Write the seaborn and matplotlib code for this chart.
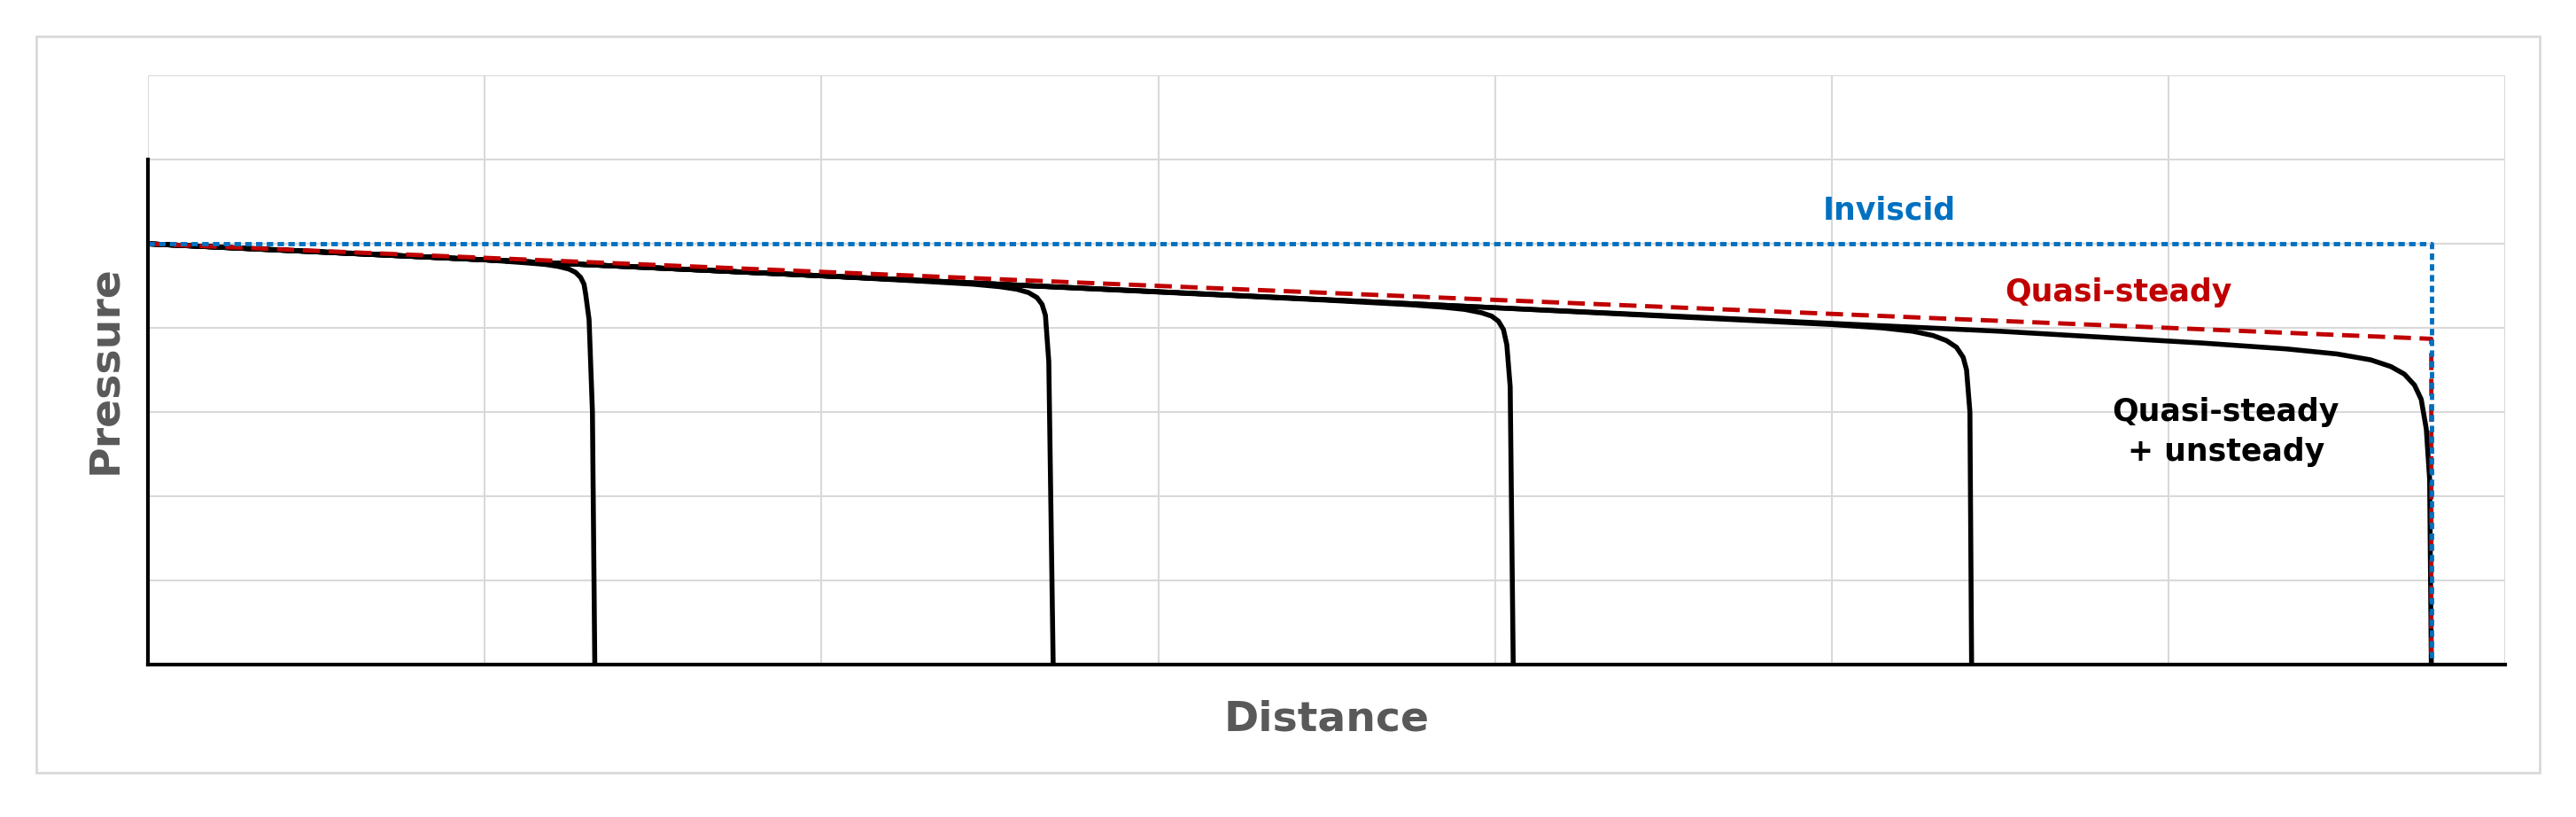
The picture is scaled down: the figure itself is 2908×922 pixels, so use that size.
import matplotlib
matplotlib.use("Agg")
import matplotlib.pyplot as plt
from matplotlib.patches import Rectangle
import seaborn as sns
import pandas as pd

# values (grid units, 7 x 7)
front_x = 6.78
inviscid_x = [0, front_x, front_x]
inviscid_y = [5, 5, 0]
quasi_x = [0, front_x, front_x]
quasi_y = [5, 3.87, 0]

curves = {
    "t1": ([0, 0.6, 1.0, 1.12, 1.18, 1.22, 1.25, 1.27, 1.285, 1.295, 1.30, 1.31, 1.32, 1.327],
           [5, 4.89, 4.81, 4.775, 4.755, 4.73, 4.70, 4.66, 4.60, 4.52, 4.40, 4.1, 3.0, 0]),
    "t2": ([0, 1, 2, 2.3, 2.45, 2.53, 2.58, 2.615, 2.64, 2.655, 2.665, 2.675, 2.688],
           [5, 4.81, 4.62, 4.555, 4.52, 4.49, 4.46, 4.42, 4.36, 4.28, 4.15, 3.6, 0]),
    "t3": ([0, 2, 3.5, 3.75, 3.85, 3.91, 3.96, 3.99, 4.01, 4.025, 4.035, 4.045, 4.054],
           [5, 4.62, 4.33, 4.275, 4.245, 4.22, 4.18, 4.14, 4.08, 3.98, 3.8, 3.3, 0]),
    "t4": ([0, 2, 4, 5.0, 5.15, 5.24, 5.30, 5.34, 5.37, 5.39, 5.40, 5.41, 5.415],
           [5, 4.62, 4.24, 4.04, 4.00, 3.96, 3.91, 3.85, 3.77, 3.65, 3.5, 3.0, 0]),
    "t5": ([0, 2, 4, 5.5, 6.1, 6.35, 6.5, 6.6, 6.66, 6.70, 6.73, 6.75, 6.765, 6.775, 6.78],
           [5, 4.62, 4.24, 3.96, 3.82, 3.75, 3.69, 3.62, 3.54, 3.45, 3.32, 3.15, 2.8, 2.2, 0]),
}

sns.set_style("white")
plt.rcParams["font.family"] = ["DejaVu Sans"]

fig = plt.figure(figsize=(29.08, 9.22), dpi=100)
fig.patches.append(Rectangle((0.014, 0.054), 0.972, 0.902, transform=fig.transFigure,
                             fill=False, edgecolor="#d9d9d9", linewidth=2))
ax = fig.add_axes([0.0574, 0.187, 0.9152, 0.7204])

rows = []
for name, (xs, ys) in curves.items():
    for i, (x, y) in enumerate(zip(xs, ys)):
        rows.append({"curve": name, "x": x, "y": y, "i": i})
df = pd.DataFrame(rows)

for name, g in df.groupby("curve"):
    sns.lineplot(data=g, x="x", y="y", sort=False, color="black", linewidth=4, ax=ax,
                 estimator=None)
ax.plot(quasi_x, quasi_y, color="#C00000", linewidth=3.5, linestyle=(0, (4, 2)))
ax.plot(inviscid_x, inviscid_y, color="#0070C0", linewidth=3.5, linestyle=(0, (1.5, 1)))

ax.set_xlim(0, 7)
ax.set_ylim(0, 7)
ax.set_xticks(range(8))
ax.set_yticks(range(8))
ax.set_xticklabels([])
ax.set_yticklabels([])
ax.tick_params(length=0)
ax.grid(True, color="#d9d9d9", linewidth=1.5)
for s in ["top", "right"]:
    ax.spines[s].set_visible(False)
ax.spines["bottom"].set_color("black")
ax.spines["bottom"].set_linewidth(3)
ax.spines["left"].set_color("black")
ax.spines["left"].set_linewidth(3)
ax.spines["left"].set_bounds(0, 6)

ax.set_xlabel("Distance", fontsize=34, fontweight="bold", color="#595959", labelpad=25)
ax.set_ylabel("Pressure", fontsize=34, fontweight="bold", color="#595959", labelpad=15)

ax.text(5.17, 5.4, "Inviscid", color="#0070C0", fontsize=25, fontweight="bold",
        ha="center", va="center")
ax.text(5.85, 4.42, "Quasi-steady", color="#C00000", fontsize=25, fontweight="bold",
        ha="center", va="center")
ax.text(6.17, 2.76, "Quasi-steady\n+ unsteady", color="black", fontsize=25,
        fontweight="bold", ha="center", va="center", linespacing=1.4)

fig.savefig("out.png", dpi=100)
